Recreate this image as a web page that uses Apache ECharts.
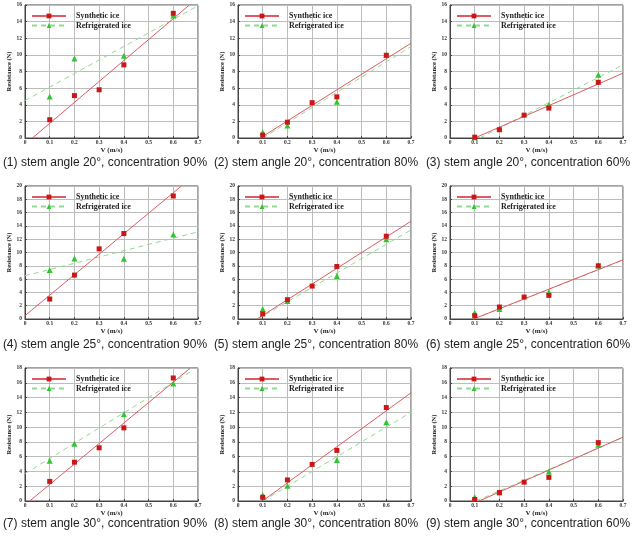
<!DOCTYPE html>
<html>
<head>
<meta charset="utf-8">
<script src="https://cdn.jsdelivr.net/npm/echarts@6/dist/echarts.min.js"></script>
<style>
  html, body { margin: 0; padding: 0; background: #fff; }
  #chart { width: 634px; height: 540px; }
</style>
</head>
<body>
<div id="chart"></div>
<script>
// test speeds (m/s)
const speeds = [0.1, 0.2, 0.3, 0.4, 0.6];
const refrigSpeeds = [0.1, 0.2, 0.4, 0.6];

// panel captions
const angles = [20, 25, 30];
const concentrations = [90, 80, 60];

// y axis max for each panel (1..9)
const yMaxes = [16, 16, 16, 20, 20, 20, 18, 18, 18];

// measured resistance (N)
const synthetic = [
  [2.2, 5.1, 5.8, 8.8, 15.0],
  [0.35, 1.9, 4.25, 4.95, 9.95],
  [0.1, 1.0, 2.75, 3.6, 6.7],
  [3.0, 6.6, 10.55, 12.85, 18.5],
  [0.75, 2.9, 4.95, 7.9, 12.45],
  [0.5, 1.8, 3.3, 3.55, 8.0],
  [2.65, 5.25, 7.2, 9.9, 16.65],
  [0.5, 2.85, 4.95, 6.85, 12.65],
  [0.2, 1.15, 2.55, 3.2, 7.9]
];
const refrigerated = [
  [5.0, 9.55, 9.9, 14.75],
  [0.7, 1.5, 4.35, 10.0],
  [0.1, 1.1, 4.0, 7.6],
  [7.35, 9.1, 9.05, 12.7],
  [1.5, 2.7, 6.45, 12.0],
  [0.95, 1.5, 4.05, 8.05],
  [5.45, 7.75, 11.75, 15.9],
  [0.8, 2.05, 5.55, 10.65],
  [0.55, 1.15, 4.0, 7.6]
];

// trend lines, start and end points [v, N]
const syntheticFit = [
  [[0.03, 0], [0.665, 16]],
  [[0.09, 0], [0.7, 11.4]],
  [[0.1, 0], [0.7, 7.8]],
  [[0, 0.5], [0.633, 20]],
  [[0.077, 0], [0.7, 14.7]],
  [[0.095, 0], [0.7, 8.9]],
  [[0.019, 0], [0.669, 18]],
  [[0.099, 0], [0.7, 14.65]],
  [[0.118, 0], [0.7, 8.65]]
];
const refrigeratedFit = [
  [[0, 4.5], [0.7, 15.9]],
  [[0.1, 0], [0.7, 11.0]],
  [[0.12, 0], [0.7, 8.8]],
  [[0, 6.5], [0.7, 13.1]],
  [[0.08, 0], [0.7, 13.4]],
  [[0.095, 0], [0.7, 8.85]],
  [[0, 3.7], [0.68, 17.7]],
  [[0.1, 0], [0.7, 12.0]],
  [[0.105, 0], [0.7, 8.6]]
];

const colLefts = [25, 238, 450];
const rowTops = [5, 186, 368];
const captionCenters = [105, 316, 528];
const captionTops = [157, 339, 518];
const plotW = 173, plotH = 133;

const RED_LINE = '#de5a64';
const RED_PT = '#cc1616';
const GREEN_LINE = '#8fdc8f';
const GREEN_PT = '#33c433';
const serif = "'Liberation Serif', 'DejaVu Serif', serif";

const grid = [], xAxis = [], yAxis = [], series = [], legend = [], title = [];

for (let i = 0; i < 9; i++) {
  const col = i % 3, row = Math.floor(i / 3);
  grid.push({
    left: colLefts[col], top: rowTops[row], width: plotW, height: plotH,
    show: true, borderColor: '#444', borderWidth: 1, backgroundColor: '#fff'
  });
  xAxis.push({
    type: 'value', gridIndex: i, min: 0, max: 0.7, interval: 0.1,
    name: 'V (m/s)', nameLocation: 'middle', nameGap: 6,
    nameTextStyle: { fontFamily: serif, fontWeight: 'bold', fontSize: 7, color: '#222' },
    axisLine: { lineStyle: { color: '#444' } },
    axisTick: { inside: true, length: 2, lineStyle: { color: '#444' } },
    axisLabel: {
      fontFamily: serif, fontWeight: 'bold', fontSize: 5.5, color: '#333', margin: 2,
      formatter: v => v === 0 ? '0' : v.toFixed(1)
    },
    splitLine: { lineStyle: { color: '#bcbcbc', width: 1 } }
  });
  yAxis.push({
    type: 'value', gridIndex: i, min: 0, max: yMaxes[i], interval: 2,
    name: 'Resistance (N)', nameLocation: 'middle', nameGap: 12,
    nameTextStyle: { fontFamily: serif, fontWeight: 'bold', fontSize: 6.5, color: '#222' },
    axisLine: { show: true, lineStyle: { color: '#444' } },
    axisTick: { show: true, inside: true, length: 2, lineStyle: { color: '#444' } },
    axisLabel: { fontFamily: serif, fontWeight: 'bold', fontSize: 5.5, color: '#333', margin: 3 },
    splitLine: { lineStyle: { color: '#bcbcbc', width: 1 } }
  });

  series.push({
    name: 'Synthetic ice', type: 'line', xAxisIndex: i, yAxisIndex: i,
    data: syntheticFit[i], showSymbol: false, symbol: 'rect', symbolSize: 5,
    itemStyle: { color: RED_PT }, lineStyle: { color: RED_LINE, width: 1 },
    silent: true, z: 3
  });
  series.push({
    name: 'Refrigerated ice', type: 'line', xAxisIndex: i, yAxisIndex: i,
    data: refrigeratedFit[i], showSymbol: false, symbol: 'triangle', symbolSize: 5,
    itemStyle: { color: GREEN_PT }, lineStyle: { color: GREEN_LINE, width: 1, type: [5, 4] },
    silent: true, z: 2
  });
  series.push({
    name: 'refrigerated-pts', type: 'scatter', xAxisIndex: i, yAxisIndex: i,
    data: refrigSpeeds.map((v, k) => [v, refrigerated[i][k]]),
    symbol: 'triangle', symbolSize: 6, itemStyle: { color: GREEN_PT, opacity: 1 }, z: 4
  });
  series.push({
    name: 'synthetic-pts', type: 'scatter', xAxisIndex: i, yAxisIndex: i,
    data: speeds.map((v, k) => [v, synthetic[i][k]]),
    symbol: 'rect', symbolSize: 5, itemStyle: { color: RED_PT, opacity: 1 }, z: 5
  });

  legend.push({
    data: ['Synthetic ice', 'Refrigerated ice'],
    orient: 'vertical', left: colLefts[col] + 6, top: rowTops[row] + 7,
    itemWidth: 34, itemHeight: 6, itemGap: 1.5, padding: 0,
    selectedMode: false,
    textStyle: { fontFamily: serif, fontWeight: 'bold', fontSize: 8, color: '#222', padding: [0, 0, 0, 5] }
  });

  title.push({
    text: '(' + (i + 1) + ') stem angle ' + angles[row] + '°, concentration ' + concentrations[col] + '%',
    left: captionCenters[col], top: captionTops[row], textAlign: 'center', padding: 0,
    textStyle: { fontFamily: "'Liberation Sans', Arial, sans-serif", fontWeight: 'normal', fontSize: 12, color: '#222' }
  });
}

const chart = echarts.init(document.getElementById('chart'), null, { renderer: 'canvas' });
chart.setOption({
  animation: false,
  backgroundColor: '#fff',
  title, grid, xAxis, yAxis, series, legend
});
</script>
</body>
</html>
